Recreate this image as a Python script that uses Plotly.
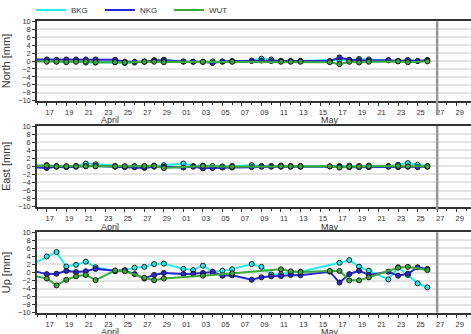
import plotly.graph_objects as go

# ---------------- data ----------------
bkg_dates = ["2024-04-15", "2024-04-17", "2024-04-18", "2024-04-19", "2024-04-20", "2024-04-21", "2024-04-22",
             "2024-04-24", "2024-04-25", "2024-04-26", "2024-04-27", "2024-04-28", "2024-04-29",
             "2024-05-01", "2024-05-02", "2024-05-03", "2024-05-04", "2024-05-05", "2024-05-06",
             "2024-05-08", "2024-05-09", "2024-05-10", "2024-05-11", "2024-05-12", "2024-05-13",
             "2024-05-17", "2024-05-18", "2024-05-19", "2024-05-20", "2024-05-22", "2024-05-23",
             "2024-05-24", "2024-05-25", "2024-05-26"]
bkg_north = [0.0, 0.1, -0.1, -0.2, -0.1, -0.4, -0.4, -0.3, -0.5, -0.4, -0.2, 0.2, 0.3,
             -0.2, -0.2, -0.2, -0.1, -0.2, -0.1, 0.1, 0.6, 0.4, 0.0, 0.0, 0.0,
             0.3, 0.2, 0.5, 0.4, 0.2, 0.0, 0.2, 0.0, 0.3]
bkg_east = [0.1, 0.3, 0.1, 0.0, 0.1, 0.7, 0.5, 0.1, 0.0, 0.1, 0.0, 0.2, 0.3,
            0.7, 0.1, 0.2, 0.1, 0.0, 0.1, 0.3, 0.1, 0.1, 0.2, 0.1, 0.1,
            0.1, 0.2, 0.1, 0.2, 0.1, 0.4, 0.8, 0.4, 0.1]
bkg_up = [1.4, 4.0, 5.1, 1.5, 1.9, 2.7, 1.3, 0.3, 0.6, 1.2, 1.4, 2.1, 2.2,
          0.9, 0.6, 1.7, 0.2, 0.45, 0.8, 2.1, 1.4, -0.5, -0.45, 0.05, 0.2,
          2.4, 3.1, 1.45, 0.45, -1.7, 1.3, -0.6, -2.7, -3.7]

nkg_dates = ["2024-04-15", "2024-04-17", "2024-04-18", "2024-04-19", "2024-04-20", "2024-04-21", "2024-04-22",
             "2024-04-24", "2024-04-25", "2024-04-26", "2024-04-27", "2024-04-28", "2024-04-29",
             "2024-05-01", "2024-05-02", "2024-05-03", "2024-05-04", "2024-05-05", "2024-05-06",
             "2024-05-08", "2024-05-09", "2024-05-10", "2024-05-11", "2024-05-12", "2024-05-13",
             "2024-05-16", "2024-05-17", "2024-05-18", "2024-05-19", "2024-05-20", "2024-05-22",
             "2024-05-23", "2024-05-24", "2024-05-25", "2024-05-26"]
nkg_north = [0.4, 0.4, 0.3, 0.4, 0.4, 0.4, 0.4, 0.3, -0.2, -0.2, -0.1, 0.1, 0.2,
             -0.1, -0.2, -0.2, -0.5, -0.1, 0.0, 0.0, 0.1, 0.0, 0.0, 0.0, 0.0,
             0.0, 0.9, 0.3, 0.2, 0.1, 0.2, 0.0, 0.2, 0.0, 0.1]
nkg_east = [-0.2, -0.4, -0.1, -0.2, -0.1, 0.1, 0.1, -0.1, -0.2, -0.2, -0.4, -0.1, -0.1,
            -0.3, -0.1, -0.5, -0.4, -0.3, -0.3, -0.2, -0.1, -0.1, -0.1, -0.1, -0.1,
            0.0, -0.1, -0.2, -0.2, -0.2, -0.1, -0.2, -0.1, -0.2, -0.1]
nkg_up = [0.8, -0.4, -0.3, 0.4, 0.1, 0.3, 0.9, 0.45, 0.5, -0.4, -1.5, -0.6, -0.1,
          -0.4, -0.3, -0.1, 0.1, -0.8, -0.7, -1.8, -1.2, -0.95, -0.9, -0.6, -0.7,
          0.2, -2.5, -0.4, 0.45, -0.6, 0.2, -0.8, -0.3, 1.3, 0.9]

wut_dates = ["2024-04-15", "2024-04-17", "2024-04-18", "2024-04-19", "2024-04-20", "2024-04-21", "2024-04-22",
             "2024-04-24", "2024-04-25", "2024-04-27", "2024-04-28", "2024-04-29",
             "2024-05-03", "2024-05-06", "2024-05-11", "2024-05-12", "2024-05-13",
             "2024-05-16", "2024-05-17", "2024-05-18", "2024-05-19", "2024-05-20",
             "2024-05-23", "2024-05-24", "2024-05-26"]
wut_north = [-0.1, -0.2, -0.2, -0.3, -0.2, -0.2, -0.3, -0.3, -0.4, -0.2, -0.2, -0.3,
             -0.2, -0.2, -0.2, -0.2, -0.2, -0.3, -0.8, -0.2, -0.4, -0.2, -0.1, -0.3, -0.1]
wut_east = [0.1, 0.2, 0.0, 0.0, 0.0, 0.0, 0.0, 0.0, 0.0, 0.1, 0.1, -0.4,
            0.1, -0.1, 0.0, 0.0, 0.0, 0.0, -0.3, -0.1, -0.1, 0.0, 0.1, 0.0, 0.0]
wut_up = [-0.5, -1.5, -3.2, -1.8, -0.95, -0.6, -1.9, 0.5, 0.3, -1.3, -1.9, -1.5,
          -0.8, -0.2, 0.8, 0.3, 0.1, 0.4, 0.4, -1.95, -1.95, -1.2, 1.2, 1.4, 0.6]

series_names = ["BKG", "NKG", "WUT"]
component_titles = ["North [mm]", "East [mm]", "Up [mm]"]
month_labels = ["April", "May"]
month_centers = ["2024-04-23 12:00", "2024-05-16 00:00"]
today_marker = "2024-05-27"

# ---------------- styling ----------------
W, H = 471, 334
colors = {"BKG": "#22eeee", "NKG": "#2626d6", "WUT": "#3aaa3a"}
FONT = "Liberation Sans, Arial, Helvetica, sans-serif"
panels_px = [(21.3, 100.7), (126.0, 206.7), (232.3, 312.7)]
label_px = [120.5, 226.5, 331.5]
vline_ext = [14, 3, 0]

data = {
    "BKG": (bkg_dates, [bkg_north, bkg_east, bkg_up]),
    "NKG": (nkg_dates, [nkg_north, nkg_east, nkg_up]),
    "WUT": (wut_dates, [wut_north, wut_east, wut_up]),
}

fig = go.Figure()

def py(px):
    return 1 - px / H

for i in range(3):
    ax = "" if i == 0 else str(i + 1)
    for name in series_names:
        dates, comps = data[name]
        fig.add_trace(go.Scatter(
            x=dates, y=comps[i], mode="lines+markers", name=name,
            xaxis="x" + ax, yaxis="y" + ax, showlegend=False, legendgroup=name,
            line=dict(color=colors[name], width=2),
            marker=dict(symbol="circle", size=5, color=colors[name],
                        line=dict(color="#1a1a1a", width=1)),
        ))

for name in series_names:
    fig.add_trace(go.Scatter(x=[None], y=[None], mode="lines", name=name,
                             legendgroup=name, line=dict(color=colors[name], width=2)))

layout = dict(
    width=W, height=H,
    margin=dict(l=37, r=0, t=0, b=0, autoexpand=False),
    paper_bgcolor="white", plot_bgcolor="white",
    font=dict(family=FONT, color="#333", size=8),
    legend=dict(orientation="h", x=-0.014, xanchor="left", y=py(10), yanchor="middle",
                font=dict(size=8, color="#333"), entrywidth=24, entrywidthmode="pixels",
                bgcolor="rgba(0,0,0,0)", tracegroupgap=0),
    shapes=[], annotations=[],
)

for i, (top, bot) in enumerate(panels_px):
    ax = "" if i == 0 else str(i + 1)
    layout["xaxis" + ax] = dict(
        type="date", domain=[0, 1], anchor="y" + ax, automargin=False,
        range=["2024-04-16 00:00", "2024-05-30 11:17"],
        tick0="2024-04-17", dtick=2 * 86400000, tickformat="%d",
        ticks="outside", ticklen=4, tickwidth=1, tickcolor="#333",
        tickfont=dict(size=7.5, color="#333"), ticklabelshift=3,
        showgrid=False, zeroline=False,
        showline=True, linecolor="#333", linewidth=1.5, mirror=True,
        minor=dict(dtick=86400000, tick0="2024-04-17", ticks="outside", ticklen=3,
                   tickcolor="#333", showgrid=False),
    )
    layout["yaxis" + ax] = dict(
        domain=[py(bot), py(top)], anchor="x" + ax, automargin=False,
        range=[-10, 10], dtick=2, tick0=0,
        ticks="outside", ticklen=3, tickcolor="#333",
        tickfont=dict(size=7.5, color="#333"),
        showgrid=True, gridcolor="#e4e4e4", gridwidth=2,
        zeroline=False, showline=True, linecolor="#333", linewidth=1.5,
        title=dict(text=component_titles[i], font=dict(size=11, color="#333"), standoff=7),
    )
    layout["shapes"].append(dict(
        type="line", xref="x" + ax, yref="paper", x0=today_marker, x1=today_marker,
        y0=py(bot + vline_ext[i]), y1=py(top), line=dict(color="#999", width=2.5), layer="above",
    ))
    for lbl, xc in zip(month_labels, month_centers):
        layout["annotations"].append(dict(
            text=lbl, x=xc, xref="x" + ax, y=py(label_px[i]), yref="paper",
            showarrow=False, xanchor="center", yanchor="middle",
            font=dict(size=9, color="#333"),
        ))

fig.update_layout(**layout)
fig.write_html("out.html", config={"displayModeBar": False},
               post_script="document.body.style.margin='0';")
